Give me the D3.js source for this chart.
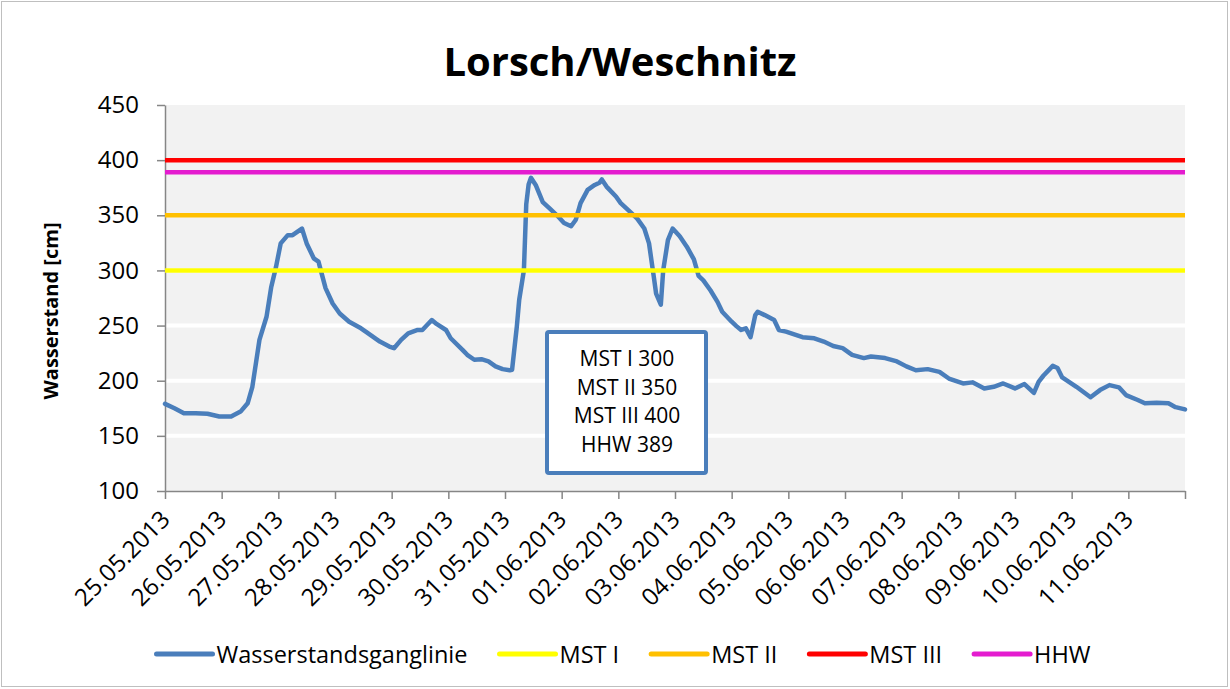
<!DOCTYPE html>
<html>
<head>
<meta charset="utf-8">
<script src="https://cdn.jsdelivr.net/npm/d3@7"></script>
<style>
  body { margin: 0; background: white; }
  text { font-family: "Open Sans", sans-serif; fill: #000; }
</style>
</head>
<body>
<script>
// hours after 25.05.2013 00:00 and the water level read at that time (cm)
var hours = [0, 4, 8, 13, 18, 23, 28, 32, 35, 37, 40, 43, 45, 47, 49, 52, 54, 56, 58, 60,
  63, 65, 68, 71, 74, 78, 83, 85, 91, 95, 97, 100, 103, 107, 109, 113, 115, 119, 121, 126,
  128, 131, 134, 137, 140, 143, 146, 147, 149, 150, 152, 153, 154, 155, 157, 160, 163, 166, 169, 172,
  174, 176, 179, 182, 184, 185, 187, 191, 193, 197, 200, 203, 205, 207, 208, 210, 211, 213, 215, 218,
  221, 224, 226, 228, 231, 234, 236, 240, 242, 244, 246, 248, 250, 251, 254, 258, 260, 263, 270, 275,
  279, 283, 287, 291, 296, 299, 303, 305, 310, 314, 318, 323, 328, 332, 338, 342, 347, 351, 355, 360,
  364, 368, 370, 372, 376, 378, 380, 386, 392, 396, 400, 404, 407, 412, 415, 420, 425, 428, 432];
var level = [179, 175, 170.5, 170.5, 170, 167.5, 167.5, 172, 179.5, 194.5, 237, 258, 285, 303, 324.5, 332, 332, 335, 338, 324.5,
  311, 308, 284, 270, 261, 253.5, 247.5, 244.5, 235.5, 231, 229.5, 237, 243, 246, 246, 255, 251.5, 246, 238.5, 228,
  223.5, 219, 219.5, 217.5, 213, 210.5, 209.5, 210, 249, 273, 300, 360, 378, 384, 377.5, 362, 356, 350, 343, 340,
  346, 361, 373, 377.5, 379.5, 382.5, 376, 367, 361, 353, 347, 338, 324.5, 294.5, 279, 269, 300, 327.5, 338, 331,
  321.5, 310, 295, 291, 282, 271.5, 262.5, 253.5, 249.5, 246, 247.5, 239.5, 259.5, 262.5, 259.5, 255, 246, 244.5, 239.5, 238.5,
  235.5, 231.5, 229.5, 223.5, 220.5, 222, 221, 220.5, 217.5, 213, 209.5, 210.5, 208, 202, 197.5, 198.5, 193, 194.5, 197.5, 193,
  197, 189, 199, 204.5, 213.5, 211.5, 203, 194.5, 185, 191.5, 196, 194, 187, 182.5, 179.5, 180, 179.5, 176, 174];

// constant threshold series
var thresholdNames = ["MST I", "MST II", "MST III", "HHW"];
var thresholdValues = [300, 350, 400, 389];
var thresholdColors = ["#ffff00", "#ffc000", "#ff0000", "#e41ccf"];

var seriesName = "Wasserstandsganglinie";
var seriesColor = "#4a7ebb";
var yTicks = [100, 150, 200, 250, 300, 350, 400, 450];
var boxLines = ["MST I 300", "MST II 350", "MST III 400", "HHW 389"];

var start = new Date(2013, 4, 25), end = new Date(2013, 5, 12);

var margin = {top: 105, right: 45, bottom: 198, left: 165},
    width = 1230 - margin.left - margin.right,
    height = 689 - margin.top - margin.bottom;

var root = d3.select("body").append("svg")
    .attr("width", 1230)
    .attr("height", 689);

// chart border
root.append("rect")
  .attr("x", 1.5).attr("y", 1.5)
  .attr("width", 1226).attr("height", 685)
  .attr("fill", "none")
  .attr("stroke", "#bfbfbf")
  .attr("stroke-width", 1);

root.append("text")
  .attr("x", 620).attr("y", 76)
  .attr("text-anchor", "middle")
  .style("font-size", "40px")
  .style("font-weight", "bold")
  .text("Lorsch/Weschnitz");

var svg = root.append("g")
  .attr("transform", "translate(" + margin.left + "," + margin.top + ")");

var x = d3.scaleTime().domain([start, end]).range([0, width]);
var y = d3.scaleLinear().domain([100, 450]).range([height, 0]);

svg.append("rect")
  .attr("width", width).attr("height", height)
  .attr("fill", "#f2f2f2");

// white gridlines
svg.selectAll(".grid")
  .data(yTicks.filter(function(d) { return d > 100 && d < 450; }))
  .enter().append("line")
  .attr("x1", 0).attr("x2", width)
  .attr("y1", function(d) { return y(d); })
  .attr("y2", function(d) { return y(d); })
  .attr("stroke", "white")
  .attr("stroke-width", 4);

// Y axis
var yAxis = svg.append("g")
  .call(d3.axisLeft(y).tickValues(yTicks).tickSize(8).tickPadding(18).tickSizeOuter(0));
yAxis.selectAll("text").style("font-size", "24px");

// X axis
var days = d3.timeDay.range(start, d3.timeDay.offset(end, 1));
var fmt = d3.timeFormat("%d.%m.%Y");
var xAxis = svg.append("g")
  .attr("transform", "translate(0," + height + ")")
  .call(d3.axisBottom(x).tickValues(days).tickSize(8).tickSizeOuter(0)
    .tickFormat(function(d) { return +d === +end ? "" : fmt(d); }));
xAxis.selectAll("text")
  .style("font-size", "24px")
  .style("text-anchor", "end")
  .attr("y", 0).attr("dy", "0.7em")
  .attr("transform", "translate(-6,18)rotate(-45)");

root.selectAll(".domain, .tick line")
  .attr("stroke", "#868686")
  .attr("stroke-width", 1.5);

// water level line
var data = hours.map(function(h, i) {
  return {t: d3.timeHour.offset(start, h), v: level[i]};
});
svg.append("path")
  .datum(data)
  .attr("fill", "none")
  .attr("stroke", seriesColor)
  .attr("stroke-width", 4.5)
  .attr("stroke-linejoin", "round")
  .attr("stroke-linecap", "round")
  .attr("d", d3.line().x(function(d) { return x(d.t); }).y(function(d) { return y(d.v); }));

// threshold lines
svg.selectAll(".thr")
  .data(thresholdValues)
  .enter().append("line")
  .attr("x1", 0).attr("x2", width)
  .attr("y1", function(d) { return y(d); })
  .attr("y2", function(d) { return y(d); })
  .attr("stroke", function(d, i) { return thresholdColors[i]; })
  .attr("stroke-width", 4.5);

// y axis title
root.append("text")
  .attr("transform", "translate(58,311)rotate(-90)")
  .attr("text-anchor", "middle")
  .style("font-size", "20px")
  .style("font-weight", "bold")
  .text("Wasserstand [cm]");

// text box
var box = root.append("g");
box.append("rect")
  .attr("x", 547).attr("y", 332)
  .attr("width", 159).attr("height", 141)
  .attr("rx", 2)
  .attr("fill", "white")
  .attr("stroke", seriesColor)
  .attr("stroke-width", 4);
box.selectAll("text")
  .data(boxLines)
  .enter().append("text")
  .attr("x", 627)
  .attr("y", function(d, i) { return 366 + i * 28.5; })
  .attr("text-anchor", "middle")
  .style("font-size", "21px")
  .text(function(d) { return d; });

// legend
var legNames = [seriesName].concat(thresholdNames);
var legColors = [seriesColor].concat(thresholdColors);
var legend = root.append("g");
var items = legend.selectAll("g")
  .data(legNames)
  .enter().append("g");
items.append("line")
  .attr("x1", 0).attr("x2", 56)
  .attr("y1", 654).attr("y2", 654)
  .attr("stroke", function(d, i) { return legColors[i]; })
  .attr("stroke-width", 5)
  .attr("stroke-linecap", "round");
items.append("text")
  .attr("x", 60).attr("y", 663)
  .style("font-size", "23.5px")
  .text(function(d) { return d; });

var pos = 0, gap = 32, offsets = [];
items.each(function() {
  offsets.push(pos);
  pos += 60 + this.querySelector("text").getComputedTextLength() + gap;
});
var total = pos - gap, left = 623.5 - total / 2;
items.attr("transform", function(d, i) { return "translate(" + (left + offsets[i]) + ",0)"; });
</script>
</body>
</html>
